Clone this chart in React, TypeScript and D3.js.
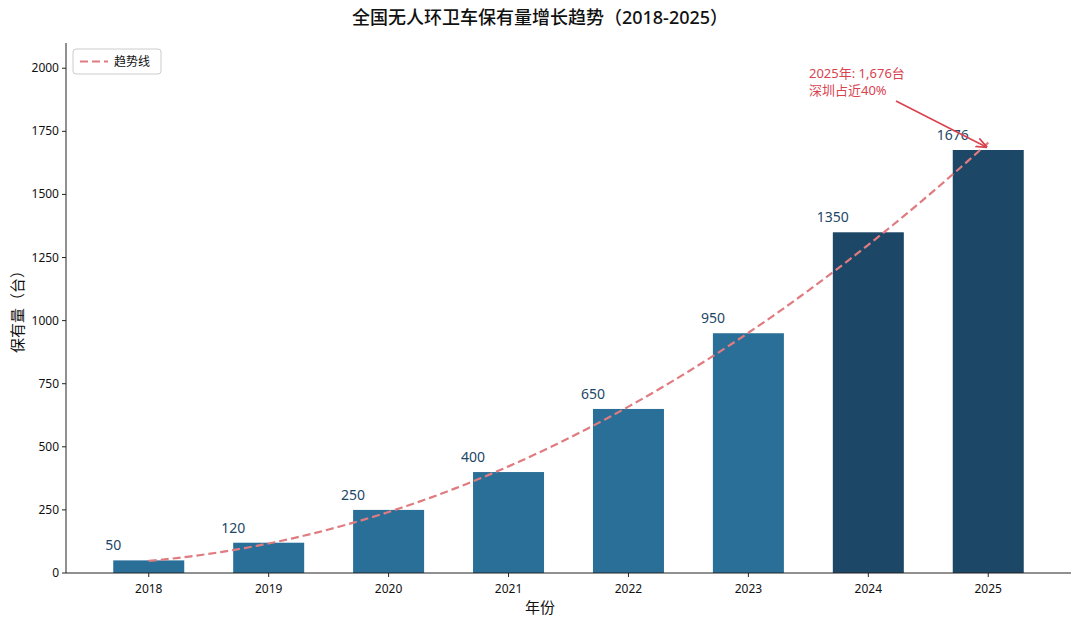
import React from "react";
import * as d3 from "d3";

const years = ["2018", "2019", "2020", "2021", "2022", "2023", "2024", "2025"];
const counts = [50, 120, 250, 400, 650, 950, 1350, 1676];
const yTicks = [0, 250, 500, 750, 1000, 1250, 1500, 1750, 2000];

const W = 1080, H = 627;
const margin = { top: 43, right: 9, bottom: 54, left: 66 };
const font = "'Noto Sans', 'Noto Sans CJK SC', sans-serif";

// quadratic least-squares fit for the trend line
function quadFit(ys: number[]) {
  const s = [0, 0, 0, 0, 0];
  const t = [0, 0, 0];
  ys.forEach((y, i) => {
    for (let k = 0; k < 5; k++) s[k] += Math.pow(i, k);
    for (let k = 0; k < 3; k++) t[k] += y * Math.pow(i, k);
  });
  const A = [
    [s[0], s[1], s[2], t[0]],
    [s[1], s[2], s[3], t[1]],
    [s[2], s[3], s[4], t[2]],
  ];
  for (let c = 0; c < 3; c++) {
    for (let r = c + 1; r < 3; r++) {
      const f = A[r][c] / A[c][c];
      for (let k = c; k < 4; k++) A[r][k] -= f * A[c][k];
    }
  }
  const x = [0, 0, 0];
  for (let r = 2; r >= 0; r--) {
    let v = A[r][3];
    for (let k = r + 1; k < 3; k++) v -= A[r][k] * x[k];
    x[r] = v / A[r][r];
  }
  return (i: number) => x[0] + x[1] * i + x[2] * i * i;
}

export default function App() {
  const x = d3.scaleLinear().domain([-0.69, 7.69]).range([margin.left, W - margin.right]);
  const y = d3.scaleLinear().domain([0, 2100]).range([H - margin.bottom, margin.top]);
  const fit = quadFit(counts);
  const pts = d3.range(0, 7.001, 0.05).map((i) => [i, fit(i)] as [number, number]);
  const line = d3.line<[number, number]>().x((d) => x(d[0])).y((d) => y(d[1]));
  const bw = 71;
  const x0 = margin.left, x1 = W - margin.right, y0 = H - margin.bottom;

  return (
    <svg width={W} height={H} style={{ position: "absolute", left: 0, top: 0, background: "#fff" }} fontFamily={font}>
      <defs>
        <marker id="ah" viewBox="0 0 10 10" refX="9" refY="5" markerWidth="7" markerHeight="7" orient="auto">
          <path d="M0,1 L10,5 L0,9" fill="none" stroke="#d9434f" strokeWidth="1.6" />
        </marker>
      </defs>
      <text x={540} y={24} textAnchor="middle" fontSize={18} fontWeight={500} fill="#111">全国无人环卫车保有量增长趋势（2018-2025）</text>
      {counts.map((c, i) => (
        <g key={i}>
          <rect x={x(i) - bw / 2} y={y(c)} width={bw} height={y0 - y(c)} fill={i >= 6 ? "#1d4766" : "#2a6f97"} />
          <text x={x(i) - bw / 2} y={y(c) - 10} textAnchor="middle" fontSize={14} fill="#1d4766">{c}</text>
        </g>
      ))}
      <path d={line(pts) || ""} fill="none" stroke="#e07b80" strokeWidth={2.2} strokeDasharray="8,4" />
      <line x1={x0} x2={x0} y1={margin.top} y2={y0} stroke="#222" />
      <line x1={x0} x2={x1} y1={y0} y2={y0} stroke="#222" />
      {yTicks.map((t) => (
        <g key={t}>
          <line x1={x0 - 4} x2={x0} y1={y(t)} y2={y(t)} stroke="#222" />
          <text x={x0 - 7} y={y(t) + 4} textAnchor="end" fontSize={12} fill="#111">{t}</text>
        </g>
      ))}
      {years.map((yr, i) => (
        <g key={yr}>
          <line x1={x(i)} x2={x(i)} y1={y0} y2={y0 + 4} stroke="#222" />
          <text x={x(i)} y={y0 + 20} textAnchor="middle" fontSize={12} fill="#111">{yr}</text>
        </g>
      ))}
      <text x={540} y={613} textAnchor="middle" fontSize={15} fill="#111">年份</text>
      <text transform={`translate(23,${308}) rotate(-90)`} textAnchor="middle" fontSize={15} fill="#111">保有量（台）</text>
      <rect x={73} y={49} width={88} height={25} rx={3} fill="#fff" stroke="#ccc" />
      <line x1={80} x2={108} y1={61.5} y2={61.5} stroke="#e07b80" strokeWidth={2.2} strokeDasharray="8,4" />
      <text x={114} y={66} fontSize={12} fill="#111">趋势线</text>
      <text x={809} y={78} fontSize={13} fill="#d9434f">2025年: 1,676台</text>
      <text x={809} y={95} fontSize={13} fill="#d9434f">深圳占近40%</text>
      <line x1={896} y1={101} x2={x(7) - 2} y2={y(counts[7]) - 3} stroke="#d9434f" strokeWidth={1.6} markerEnd="url(#ah)" />
    </svg>
  );
}
